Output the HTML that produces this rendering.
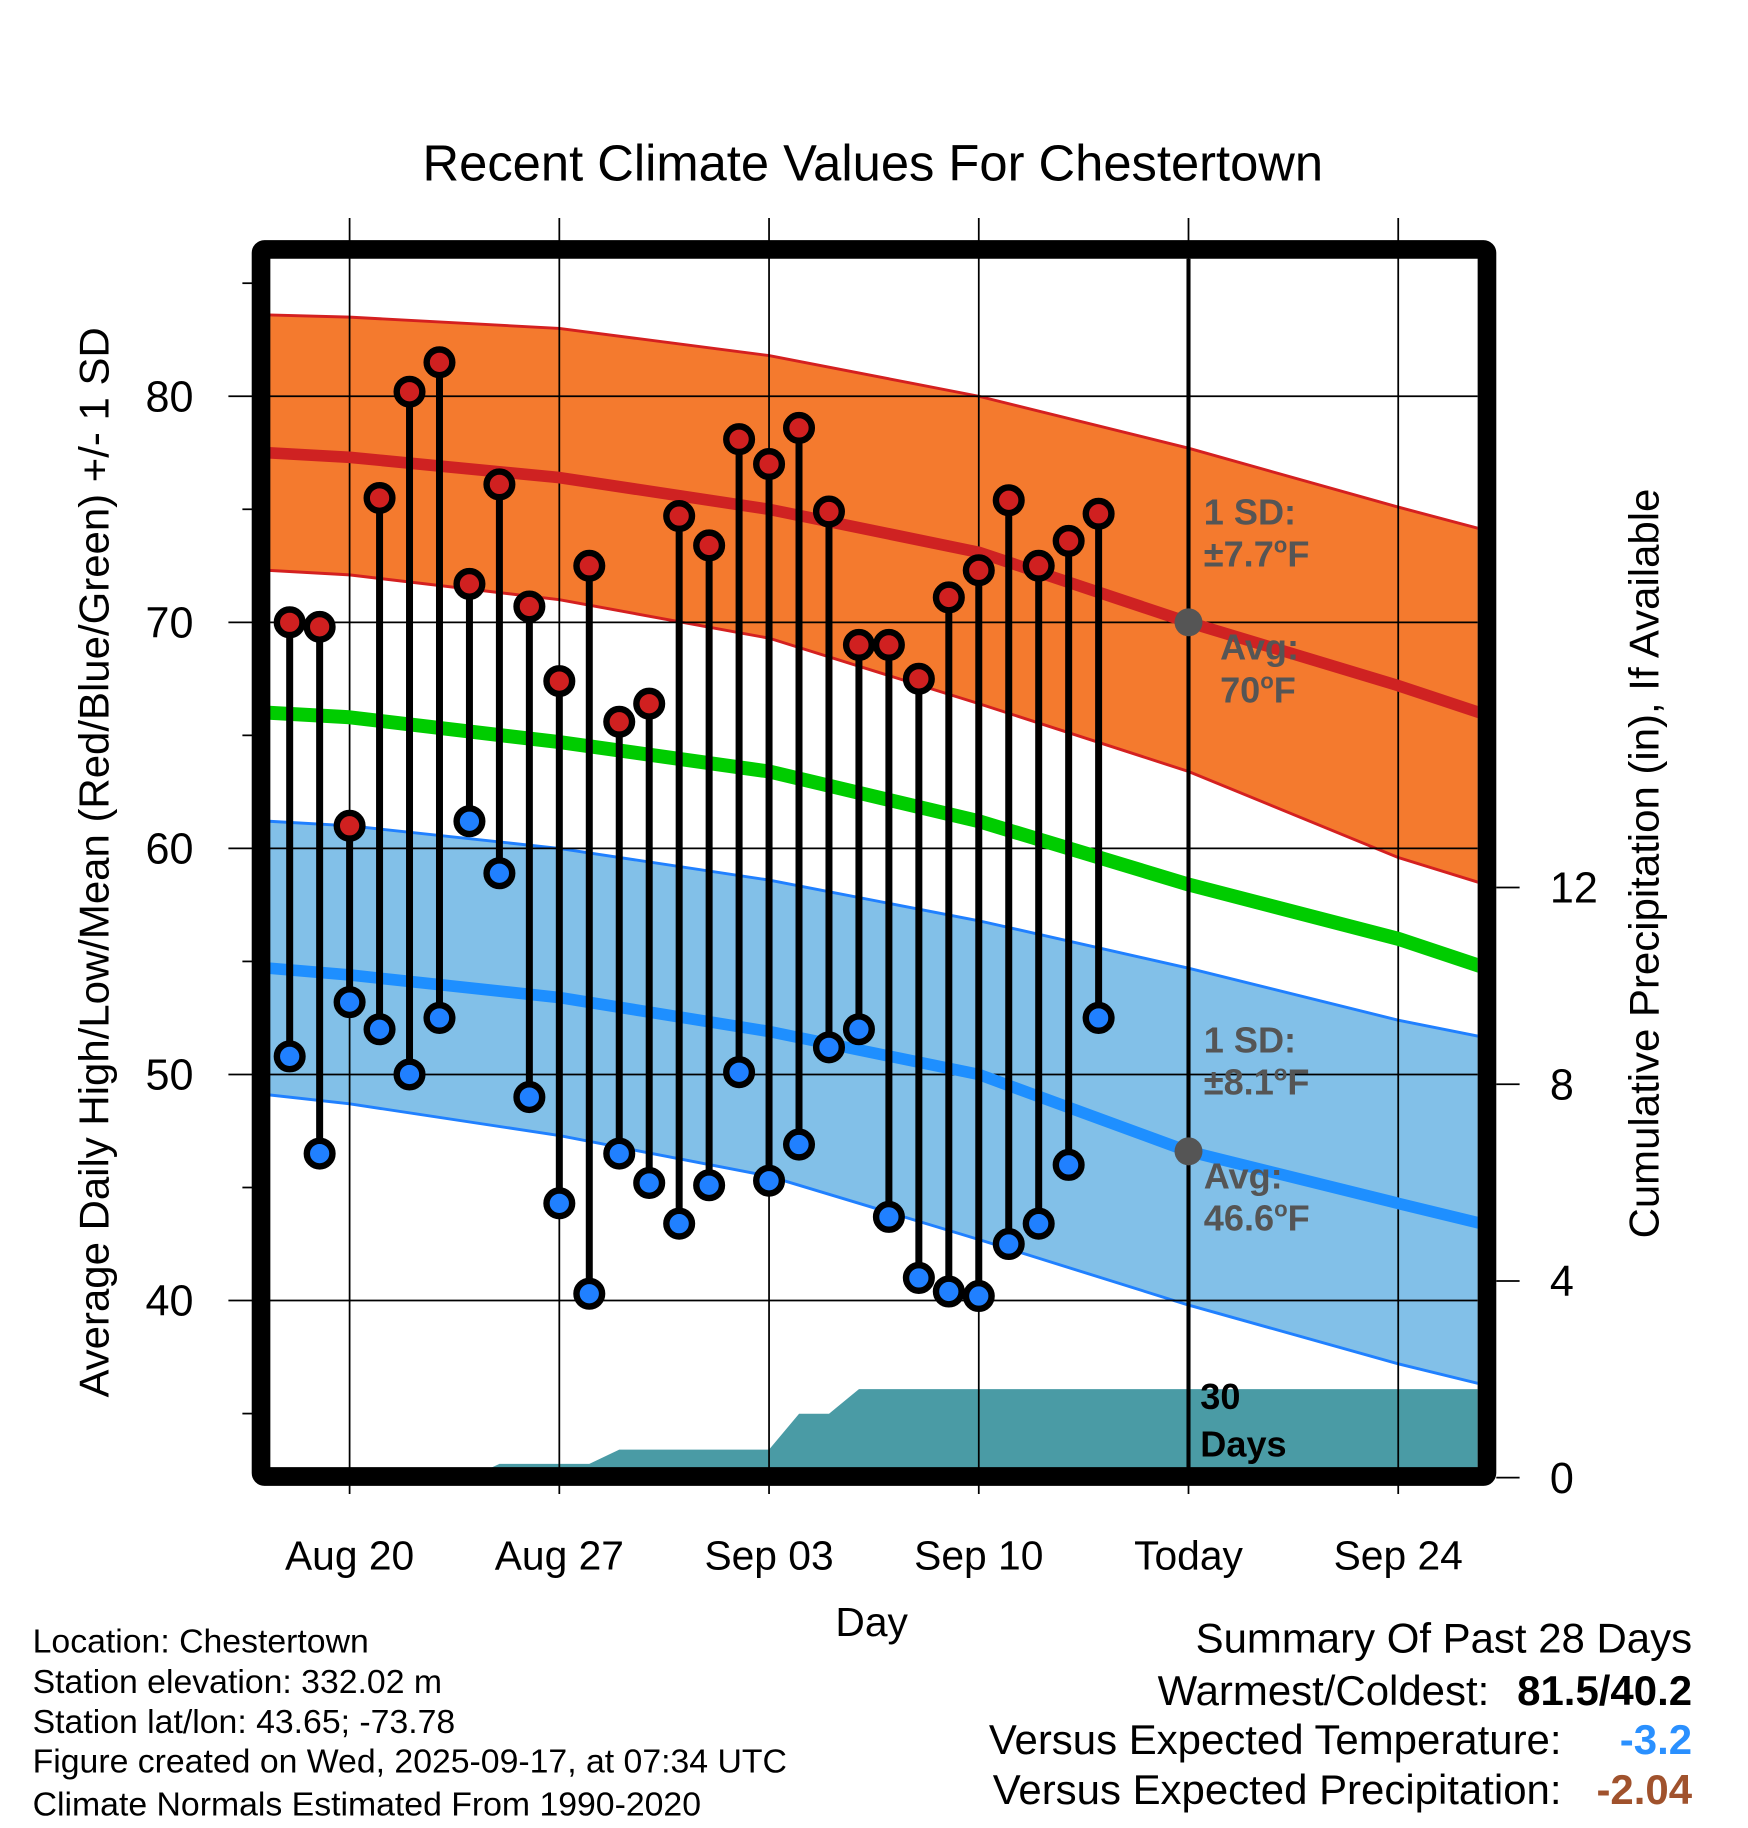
<!DOCTYPE html>
<html><head><meta charset="utf-8"><style>html,body{margin:0;padding:0;background:#fff}svg{display:block}text{font-family:"Liberation Sans",sans-serif}</style></head>
<body>
<svg id="chart" xmlns="http://www.w3.org/2000/svg" width="1748" height="1828" viewBox="0 0 1500 1568.6">
<defs><clipPath id="plotclip"><rect x="231" y="222" width="1037" height="1038"/></clipPath></defs>
<g id="plot" clip-path="url(#plotclip)"></g>
<g id="over"></g>
<text x="749" y="155" font-size="43.5" text-anchor="middle">Recent Climate Values For Chestertown</text>
<text transform="translate(93,740) rotate(-90)" font-size="36" text-anchor="middle">Average Daily High/Low/Mean (Red/Blue/Green) +/- 1 SD</text>
<text transform="translate(1423,741) rotate(-90)" font-size="36" text-anchor="middle">Cumulative Precipitation (in), If Available</text>
<text x="748" y="1404" font-size="35" text-anchor="middle">Day</text>
<g font-size="29">
<text x="28" y="1418">Location: Chestertown</text>
<text x="28" y="1453">Station elevation: 332.02 m</text>
<text x="28" y="1487">Station lat/lon: 43.65; -73.78</text>
<text x="28" y="1521">Figure created on Wed, 2025-09-17, at 07:34 UTC</text>
<text x="28" y="1558">Climate Normals Estimated From 1990-2020</text>
</g>
<g font-size="36">
<text x="1452" y="1418" text-anchor="end">Summary Of Past 28 Days</text>
<text x="1278" y="1463" text-anchor="end">Warmest/Coldest:</text>
<text x="1452" y="1463" text-anchor="end" font-weight="bold">81.5/40.2</text>
<text x="1340" y="1505" text-anchor="end">Versus Expected Temperature:</text>
<text x="1452" y="1505" text-anchor="end" font-weight="bold" fill="#2a90ff">-3.2</text>
<text x="1340" y="1548" text-anchor="end">Versus Expected Precipitation:</text>
<text x="1452" y="1548" text-anchor="end" font-weight="bold" fill="#a0522d">-2.04</text>
</g>
</svg>
<script>
// days offset from Aug 20
const obsDays = [-2,-1,0,1,2,3,4,5,6,7,8,9,10,11,12,13,14,15,16,17,18,19,20,21,22,23,24,25];
const highs = [70.0,69.8,61.0,75.5,80.2,81.5,71.7,76.1,70.7,67.4,72.5,65.6,66.4,74.7,73.4,78.1,77.0,78.6,74.9,69.0,69.0,67.5,71.1,72.3,75.4,72.5,73.6,74.8];
const lows = [50.8,46.5,53.2,52.0,50.0,52.5,61.2,58.9,49.0,44.3,40.3,46.5,45.2,43.4,45.1,50.1,45.3,46.9,51.2,52.0,43.7,41.0,40.4,40.2,42.5,43.4,46.0,52.5];
const normDays = [-2.7,0,7,14,21,28,35,38.4];
const highAvg = [77.5,77.3,76.4,75.0,73.1,70.0,67.2,65.7];
const highUp = [83.6,83.5,83.0,81.8,80.0,77.7,75.1,73.9];
const highLo = [72.3,72.1,71.0,69.3,66.4,63.4,59.6,58.2];
const meanAvg = [66.0,65.8,64.7,63.4,61.2,58.4,56.0,54.5];
const lowAvg = [54.7,54.4,53.4,51.9,50.0,46.6,44.3,43.2];
const lowUp = [61.2,61.0,60.0,58.6,56.8,54.7,52.4,51.5];
const lowLo = [49.1,48.7,47.3,45.5,42.7,39.8,37.2,36.1];
const precipDays = [-2.7,4,5,8,9,14,15,16,17,38.4];
const precipCum = [0,0,0.28,0.28,0.57,0.57,1.3,1.3,1.8,1.8];
const yTicks = [40,50,60,70,80];
const yMinor = [35,45,55,65,75,85];
const y2Ticks = [0,4,8,12];
const xTickDays = [0,7,14,21,28,35];
const xTickLabels = ["Aug 20","Aug 27","Sep 03","Sep 10","Today","Sep 24"];

const NS="http://www.w3.org/2000/svg";
const X=d=>300+d*25.71, Y=v=>340+(80-v)*19.4, YP=p=>1268-p*42.2;
const plot=document.getElementById('plot'), over=document.getElementById('over');
function mk(tag,attrs,parent){const e=document.createElementNS(NS,tag);for(const k in attrs)e.setAttribute(k,attrs[k]);(parent||plot).appendChild(e);return e;}
function line(arr){return arr.map((v,i)=>(i?'L':'M')+X(normDays[i]).toFixed(1)+','+Y(v).toFixed(1)).join('');}
function band(up,lo){return line(up)+lo.slice().reverse().map((v,i)=>'L'+X(normDays[lo.length-1-i]).toFixed(1)+','+Y(v).toFixed(1)).join('')+'Z';}

let e;
e=mk('path',{d:band(highUp,highLo),fill:'#f47a2e',stroke:'none'});


e=mk('path',{d:band(lowUp,lowLo),fill:'#82c0e8',stroke:'none'});


[[highUp,'#d42020'],[highLo,'#d42020'],[lowUp,'#2080ff'],[lowLo,'#2080ff']].forEach(([a,c])=>{
  e=mk('path',{d:line(a),fill:'none',stroke:c,'stroke-width':2.5});
  
  
});
let pd='M'+X(precipDays[0])+','+YP(0);
precipDays.forEach((d,i)=>{pd+='L'+X(d).toFixed(1)+','+YP(precipCum[i]).toFixed(1);});
pd+='L'+X(precipDays[precipDays.length-1])+','+YP(0)+'Z';
e=mk('path',{d:pd,fill:'#4a9ba5'});


yTicks.forEach(v=>{e=mk('line',{x1:196,x2:1268,y1:Y(v),y2:Y(v),stroke:'#000','stroke-width':1.5},over);

});
xTickDays.forEach(d=>{e=mk('line',{x1:X(d),x2:X(d),y1:187,y2:1282,stroke:'#000','stroke-width':1.5},over);

});
yMinor.forEach(v=>{e=mk('line',{x1:208,x2:220,y1:Y(v),y2:Y(v),stroke:'#000','stroke-width':1.5},over);

});
const avgG=mk('g',{'clip-path':'url(#plotclip)'},over);
[[highAvg,'#cf2222',10,'high-average-line'],[meanAvg,'#00cc00',12,'mean-average-line'],[lowAvg,'#1e8fff',10,'low-average-line']].forEach(([a,c,w,n])=>{
  e=mk('path',{d:line(a),fill:'none',stroke:c,'stroke-width':w,'stroke-linejoin':'round'},avgG);
  
  
});
e=mk('line',{x1:X(28),x2:X(28),y1:222,y2:1260,stroke:'#000','stroke-width':3.5},over);


obsDays.forEach((d,i)=>{
  e=mk('line',{x1:X(d),x2:X(d),y1:Y(highs[i]),y2:Y(lows[i]),stroke:'#000','stroke-width':6},over);
  
  
});
obsDays.forEach((d,i)=>{
  e=mk('circle',{cx:X(d),cy:Y(highs[i]),r:11,fill:'#d02020',stroke:'#000','stroke-width':5.5},over);
  
  
  e=mk('circle',{cx:X(d),cy:Y(lows[i]),r:11,fill:'#2080ff',stroke:'#000','stroke-width':5.5},over);
  
  
});
[highAvg[5],lowAvg[5]].forEach(v=>{
  e=mk('circle',{cx:X(28),cy:Y(v),r:12,fill:'#555'},over);
  
  
});
function txt(x,y,s,attrs,name){const t=mk('text',Object.assign({x:x,y:y},attrs),over);t.innerHTML=s;

return t;}
const ga={'font-size':31,'font-weight':'bold',fill:'#555'};
txt(1033,450,'1 SD:',ga,'high-sd-label');
txt(1033,486,'±7.7<tspan font-size="19" dy="-12">o</tspan><tspan dy="12">F</tspan>',ga,'high-sd-value');
txt(1047,566,'Avg:',ga,'high-avg-label');
txt(1047,603,'70<tspan font-size="19" dy="-12">o</tspan><tspan dy="12">F</tspan>',ga,'high-avg-value');
txt(1033,903,'1 SD:',ga,'low-sd-label');
txt(1033,939,'±8.1<tspan font-size="19" dy="-12">o</tspan><tspan dy="12">F</tspan>',ga,'low-sd-value');
txt(1033,1020,'Avg:',ga,'low-avg-label');
txt(1033,1056,'46.6<tspan font-size="19" dy="-12">o</tspan><tspan dy="12">F</tspan>',ga,'low-avg-value');
const ba={'font-size':31,'font-weight':'bold',fill:'#000'};
txt(1030,1209,'30',ba,'precip-days-label');
txt(1030,1250,'Days',ba,'precip-days-label-2');
e=mk('rect',{x:224,y:214,width:1052,height:1053,fill:'none',stroke:'#000','stroke-width':16,rx:3},over);


yTicks.forEach(v=>{txt(166,Y(v)+13,String(v),{'font-size':37,'text-anchor':'end'},'y-tick-label');});
y2Ticks.forEach(p=>{
  e=mk('line',{x1:1284,x2:1304,y1:YP(p),y2:YP(p),stroke:'#000','stroke-width':1.5},over);
  
  
  txt(1330,YP(p)+13,String(p),{'font-size':37},'y2-tick-label');
});
xTickDays.forEach((d,i)=>{txt(X(d),1347,xTickLabels[i],{'font-size':35,'text-anchor':'middle'},'x-tick-label');});
</script>
</body></html>
